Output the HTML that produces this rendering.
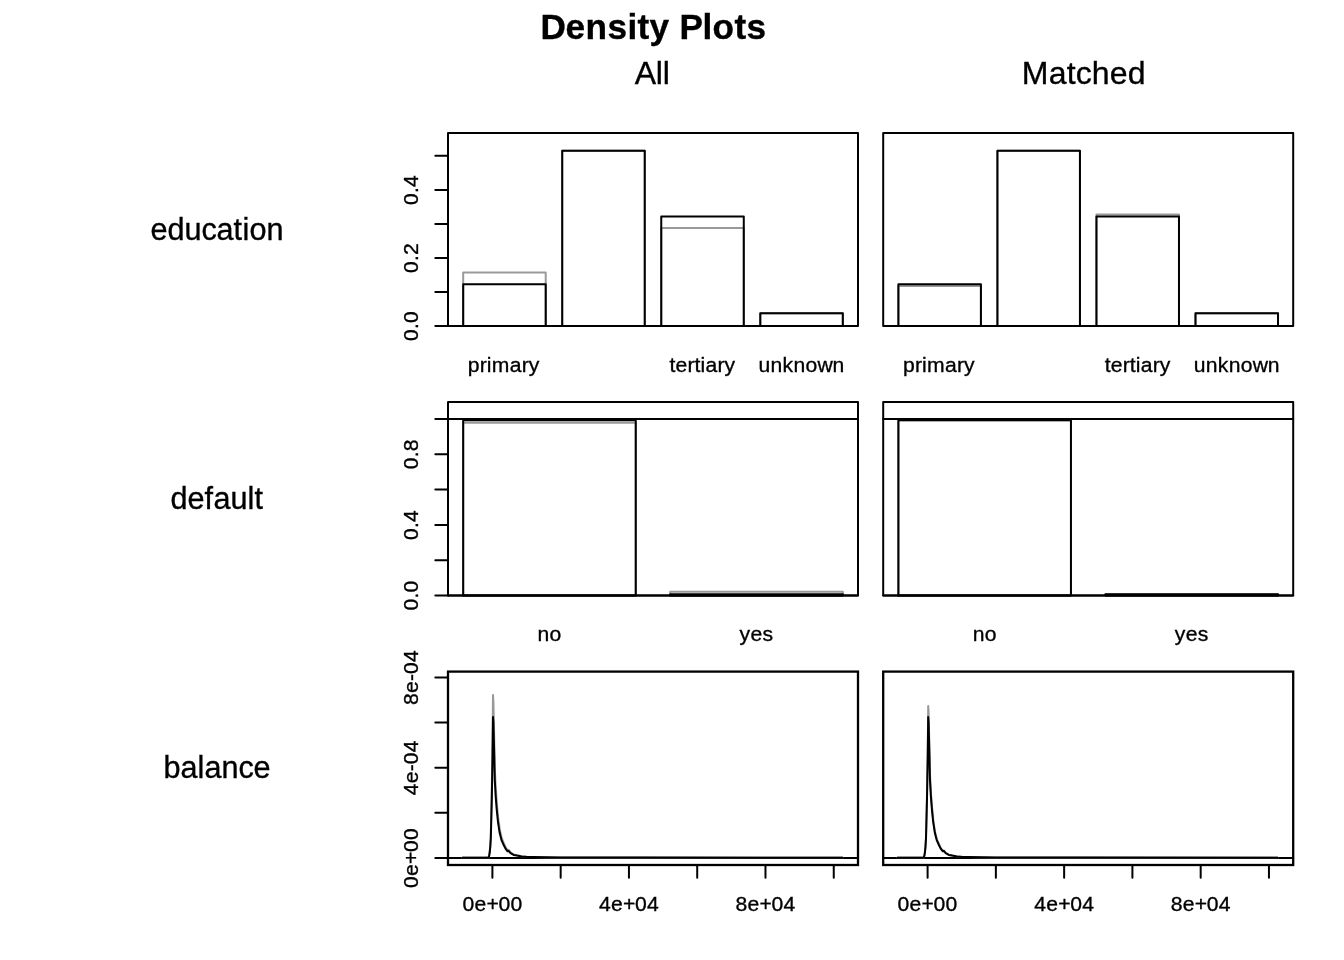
<!DOCTYPE html>
<html><head><meta charset="utf-8"><title>Density Plots</title>
<style>html,body{margin:0;padding:0;background:#fff;overflow:hidden}svg{display:block;will-change:transform;filter:grayscale(1)}</style></head>
<body>
<svg width="1344" height="960" viewBox="0 0 1344 960" font-family="'Liberation Sans', sans-serif" fill="#000">
<style>text{stroke:#000;stroke-width:0.35px}line,rect,polyline{stroke-linecap:round;stroke-linejoin:round}</style>
<rect width="1344" height="960" fill="#fff"/>
<text x="540.60 565.60 585.60 607.60 627.60 637.60 649.60 669.60 679.60 702.60 712.60 734.60 746.60" y="39.00" font-size="35.2" font-weight="bold">Density Plots</text>
<text x="634.70 655.70 662.70" y="83.80" font-size="32">All</text>
<text x="1021.80 1048.80 1066.80 1075.80 1091.80 1109.80 1127.80" y="83.80" font-size="32">Matched</text>
<text x="150.50 167.50 184.50 201.50 216.50 233.50 242.50 249.50 266.50" y="239.60" font-size="30.6">education</text>
<text x="170.50 187.50 204.50 213.50 230.50 247.50 254.50" y="509.00" font-size="30.6">default</text>
<text x="163.50 180.50 197.50 204.50 221.50 238.50 253.50" y="778.30" font-size="30.6">balance</text>
<rect x="463.19" y="272.57" width="82.53" height="53.43" fill="none" stroke="#999999" stroke-width="2"/>
<rect x="562.22" y="150.75" width="82.53" height="175.25" fill="none" stroke="#999999" stroke-width="2"/>
<rect x="661.25" y="227.99" width="82.53" height="98.01" fill="none" stroke="#999999" stroke-width="2"/>
<rect x="760.29" y="313.24" width="82.53" height="12.76" fill="none" stroke="#999999" stroke-width="2"/>
<rect x="463.19" y="284.31" width="82.53" height="41.69" fill="none" stroke="#000" stroke-width="2"/>
<rect x="562.22" y="150.75" width="82.53" height="175.25" fill="none" stroke="#000" stroke-width="2"/>
<rect x="661.25" y="216.59" width="82.53" height="109.41" fill="none" stroke="#000" stroke-width="2"/>
<rect x="760.29" y="313.24" width="82.53" height="12.76" fill="none" stroke="#000" stroke-width="2"/>
<rect x="898.39" y="286.01" width="82.53" height="39.99" fill="none" stroke="#999999" stroke-width="2"/>
<rect x="997.42" y="150.75" width="82.53" height="175.25" fill="none" stroke="#999999" stroke-width="2"/>
<rect x="1096.45" y="214.55" width="82.53" height="111.45" fill="none" stroke="#999999" stroke-width="2"/>
<rect x="1195.49" y="313.24" width="82.53" height="12.76" fill="none" stroke="#999999" stroke-width="2"/>
<rect x="898.39" y="284.31" width="82.53" height="41.69" fill="none" stroke="#000" stroke-width="2"/>
<rect x="997.42" y="150.75" width="82.53" height="175.25" fill="none" stroke="#000" stroke-width="2"/>
<rect x="1096.45" y="216.59" width="82.53" height="109.41" fill="none" stroke="#000" stroke-width="2"/>
<rect x="1195.49" y="313.24" width="82.53" height="12.76" fill="none" stroke="#000" stroke-width="2"/>
<rect x="448.00" y="133.10" width="410.00" height="192.90" fill="none" stroke="#000" stroke-width="2"/>
<rect x="883.20" y="133.10" width="410.00" height="192.90" fill="none" stroke="#000" stroke-width="2"/>
<line x1="435.33" y1="326.00" x2="448.00" y2="326.00" stroke="#000" stroke-width="2"/>
<line x1="435.33" y1="291.97" x2="448.00" y2="291.97" stroke="#000" stroke-width="2"/>
<line x1="435.33" y1="257.94" x2="448.00" y2="257.94" stroke="#000" stroke-width="2"/>
<line x1="435.33" y1="223.91" x2="448.00" y2="223.91" stroke="#000" stroke-width="2"/>
<line x1="435.33" y1="189.88" x2="448.00" y2="189.88" stroke="#000" stroke-width="2"/>
<line x1="435.33" y1="155.85" x2="448.00" y2="155.85" stroke="#000" stroke-width="2"/>
<text x="403.00 415.00 421.00" y="326.00" font-size="21.12" transform="rotate(-90 418.00 326.00)">0.0</text>
<text x="403.00 415.00 421.00" y="257.94" font-size="21.12" transform="rotate(-90 418.00 257.94)">0.2</text>
<text x="403.00 415.00 421.00" y="189.88" font-size="21.12" transform="rotate(-90 418.00 189.88)">0.4</text>
<text x="467.85 479.85 486.85 491.85 509.85 521.85 528.85" y="371.80" font-size="21.12">primary</text>
<text x="669.52 675.52 687.52 694.52 700.52 705.52 717.52 724.52" y="371.80" font-size="21.12">tertiary</text>
<text x="758.55 770.55 782.55 793.55 805.55 817.55 832.55" y="371.80" font-size="21.12">unknown</text>
<text x="903.05 915.05 922.05 927.05 945.05 957.05 964.05" y="371.80" font-size="21.12">primary</text>
<text x="1104.72 1110.72 1122.72 1129.72 1135.72 1140.72 1152.72 1159.72" y="371.80" font-size="21.12">tertiary</text>
<text x="1193.75 1205.75 1217.75 1228.75 1240.75 1252.75 1267.75" y="371.80" font-size="21.12">unknown</text>
<rect x="463.19" y="422.79" width="172.56" height="172.71" fill="none" stroke="#999999" stroke-width="2"/>
<rect x="670.26" y="591.71" width="172.56" height="3.79" fill="none" stroke="#999999" stroke-width="2"/>
<rect x="463.19" y="420.29" width="172.56" height="175.21" fill="none" stroke="#000" stroke-width="2"/>
<rect x="670.26" y="594.21" width="172.56" height="1.29" fill="none" stroke="#000" stroke-width="2"/>
<rect x="898.39" y="420.29" width="172.56" height="175.21" fill="none" stroke="#999999" stroke-width="2"/>
<rect x="1105.46" y="594.21" width="172.56" height="1.29" fill="none" stroke="#999999" stroke-width="2"/>
<rect x="898.39" y="420.29" width="172.56" height="175.21" fill="none" stroke="#000" stroke-width="2"/>
<rect x="1105.46" y="594.21" width="172.56" height="1.29" fill="none" stroke="#000" stroke-width="2"/>
<rect x="448.00" y="402.10" width="410.00" height="193.40" fill="none" stroke="#000" stroke-width="2"/>
<line x1="448.00" y1="419.00" x2="858.00" y2="419.00" stroke="#000" stroke-width="2"/>
<line x1="448.00" y1="595.50" x2="858.00" y2="595.50" stroke="#000" stroke-width="2"/>
<rect x="883.20" y="402.10" width="410.00" height="193.40" fill="none" stroke="#000" stroke-width="2"/>
<line x1="883.20" y1="419.00" x2="1293.20" y2="419.00" stroke="#000" stroke-width="2"/>
<line x1="883.20" y1="595.50" x2="1293.20" y2="595.50" stroke="#000" stroke-width="2"/>
<line x1="435.33" y1="595.50" x2="448.00" y2="595.50" stroke="#000" stroke-width="2"/>
<line x1="435.33" y1="560.20" x2="448.00" y2="560.20" stroke="#000" stroke-width="2"/>
<line x1="435.33" y1="524.90" x2="448.00" y2="524.90" stroke="#000" stroke-width="2"/>
<line x1="435.33" y1="489.60" x2="448.00" y2="489.60" stroke="#000" stroke-width="2"/>
<line x1="435.33" y1="454.30" x2="448.00" y2="454.30" stroke="#000" stroke-width="2"/>
<line x1="435.33" y1="419.00" x2="448.00" y2="419.00" stroke="#000" stroke-width="2"/>
<text x="403.00 415.00 421.00" y="595.50" font-size="21.12" transform="rotate(-90 418.00 595.50)">0.0</text>
<text x="403.00 415.00 421.00" y="524.90" font-size="21.12" transform="rotate(-90 418.00 524.90)">0.4</text>
<text x="403.00 415.00 421.00" y="454.30" font-size="21.12" transform="rotate(-90 418.00 454.30)">0.8</text>
<text x="537.46 549.46" y="640.70" font-size="21.12">no</text>
<text x="739.54 750.54 762.54" y="640.70" font-size="21.12">yes</text>
<text x="972.66 984.66" y="640.70" font-size="21.12">no</text>
<text x="1174.74 1185.74 1197.74" y="640.70" font-size="21.12">yes</text>
<line x1="448.00" y1="858.0" x2="858.00" y2="858.0" stroke="#000" stroke-width="2"/>
<polyline points="462.40,857.60 487.20,857.60 488.40,857.54 489.10,855.80 489.70,851.76 490.30,844.82 490.80,835.34 491.30,812.45 491.80,789.56 492.15,766.21 492.50,743.78 492.75,719.97 493.00,695.00 493.40,701.47 493.80,719.97 494.30,743.09 494.75,767.37 495.70,787.02 496.70,801.70 498.00,816.50 499.70,829.21 501.50,837.31 503.70,842.97 505.50,847.13 507.60,850.25 508.60,849.79 510.50,852.45 513.60,854.42 517.00,855.23 521.50,856.15 527.00,856.73 533.40,856.96 545.00,857.25 560.00,857.42 640.00,857.54 842.50,857.60" fill="none" stroke="#999999" stroke-width="2" stroke-linejoin="round"/>
<polyline points="462.40,857.65 487.20,857.65 488.40,857.60 489.10,856.10 489.70,852.60 490.30,846.60 490.80,838.40 491.30,818.60 491.80,798.80 492.15,778.60 492.50,759.20 492.75,738.60 493.00,717.00 493.40,722.60 493.80,738.60 494.30,758.60 494.75,779.60 495.70,796.60 496.70,809.30 498.00,822.10 499.70,833.10 501.50,840.10 503.70,845.00 505.50,848.60 507.60,851.30 508.60,850.90 510.50,853.20 513.60,854.90 517.00,855.60 521.50,856.40 527.00,856.90 533.40,857.10 545.00,857.35 560.00,857.50 640.00,857.60 842.50,857.65" fill="none" stroke="#000" stroke-width="2" stroke-linejoin="round"/>
<rect x="448.00" y="671.60" width="410.00" height="193.40" fill="none" stroke="#000" stroke-width="2.3" style="stroke-linejoin:miter"/>
<line x1="492.40" y1="865.00" x2="492.40" y2="877.67" stroke="#000" stroke-width="2"/>
<line x1="560.67" y1="865.00" x2="560.67" y2="877.67" stroke="#000" stroke-width="2"/>
<line x1="628.94" y1="865.00" x2="628.94" y2="877.67" stroke="#000" stroke-width="2"/>
<line x1="697.21" y1="865.00" x2="697.21" y2="877.67" stroke="#000" stroke-width="2"/>
<line x1="765.48" y1="865.00" x2="765.48" y2="877.67" stroke="#000" stroke-width="2"/>
<line x1="833.75" y1="865.00" x2="833.75" y2="877.67" stroke="#000" stroke-width="2"/>
<text x="462.40 474.40 486.40 498.40 510.40" y="910.60" font-size="21.12">0e+00</text>
<text x="598.94 610.94 622.94 634.94 646.94" y="910.60" font-size="21.12">4e+04</text>
<text x="735.48 747.48 759.48 771.48 783.48" y="910.60" font-size="21.12">8e+04</text>
<line x1="883.20" y1="858.0" x2="1293.20" y2="858.0" stroke="#000" stroke-width="2"/>
<polyline points="897.60,857.62 922.40,857.62 923.60,857.57 924.30,855.95 924.90,852.17 925.50,845.70 926.00,836.86 926.50,815.50 927.00,794.14 927.35,772.35 927.70,751.42 927.95,729.20 928.20,705.90 928.60,711.94 929.00,729.20 929.50,750.77 929.95,773.43 930.90,791.77 931.90,805.47 933.20,819.27 934.90,831.14 936.70,838.69 938.90,843.98 940.70,847.86 942.80,850.77 943.80,850.34 945.70,852.82 948.80,854.66 952.20,855.41 956.70,856.27 962.20,856.81 968.60,857.03 980.20,857.30 995.20,857.46 1075.20,857.57 1277.70,857.62" fill="none" stroke="#999999" stroke-width="2" stroke-linejoin="round"/>
<polyline points="897.60,857.65 922.40,857.65 923.60,857.60 924.30,856.10 924.90,852.60 925.50,846.60 926.00,838.40 926.50,818.60 927.00,798.80 927.35,778.60 927.70,759.20 927.95,738.60 928.20,717.00 928.60,722.60 929.00,738.60 929.50,758.60 929.95,779.60 930.90,796.60 931.90,809.30 933.20,822.10 934.90,833.10 936.70,840.10 938.90,845.00 940.70,848.60 942.80,851.30 943.80,850.90 945.70,853.20 948.80,854.90 952.20,855.60 956.70,856.40 962.20,856.90 968.60,857.10 980.20,857.35 995.20,857.50 1075.20,857.60 1277.70,857.65" fill="none" stroke="#000" stroke-width="2" stroke-linejoin="round"/>
<rect x="883.20" y="671.60" width="410.00" height="193.40" fill="none" stroke="#000" stroke-width="2.3" style="stroke-linejoin:miter"/>
<line x1="927.60" y1="865.00" x2="927.60" y2="877.67" stroke="#000" stroke-width="2"/>
<line x1="995.87" y1="865.00" x2="995.87" y2="877.67" stroke="#000" stroke-width="2"/>
<line x1="1064.14" y1="865.00" x2="1064.14" y2="877.67" stroke="#000" stroke-width="2"/>
<line x1="1132.41" y1="865.00" x2="1132.41" y2="877.67" stroke="#000" stroke-width="2"/>
<line x1="1200.68" y1="865.00" x2="1200.68" y2="877.67" stroke="#000" stroke-width="2"/>
<line x1="1268.95" y1="865.00" x2="1268.95" y2="877.67" stroke="#000" stroke-width="2"/>
<text x="897.60 909.60 921.60 933.60 945.60" y="910.60" font-size="21.12">0e+00</text>
<text x="1034.14 1046.14 1058.14 1070.14 1082.14" y="910.60" font-size="21.12">4e+04</text>
<text x="1170.68 1182.68 1194.68 1206.68 1218.68" y="910.60" font-size="21.12">8e+04</text>
<line x1="435.33" y1="858.00" x2="448.00" y2="858.00" stroke="#000" stroke-width="2"/>
<line x1="435.33" y1="812.85" x2="448.00" y2="812.85" stroke="#000" stroke-width="2"/>
<line x1="435.33" y1="767.70" x2="448.00" y2="767.70" stroke="#000" stroke-width="2"/>
<line x1="435.33" y1="722.55" x2="448.00" y2="722.55" stroke="#000" stroke-width="2"/>
<line x1="435.33" y1="677.40" x2="448.00" y2="677.40" stroke="#000" stroke-width="2"/>
<text x="388.00 400.00 412.00 424.00 436.00" y="858.00" font-size="21.12" transform="rotate(-90 418.00 858.00)">0e+00</text>
<text x="390.50 402.50 414.50 421.50 433.50" y="767.70" font-size="21.12" transform="rotate(-90 418.00 767.70)">4e-04</text>
<text x="390.50 402.50 414.50 421.50 433.50" y="677.40" font-size="21.12" transform="rotate(-90 418.00 677.40)">8e-04</text>
</svg>
</body></html>
